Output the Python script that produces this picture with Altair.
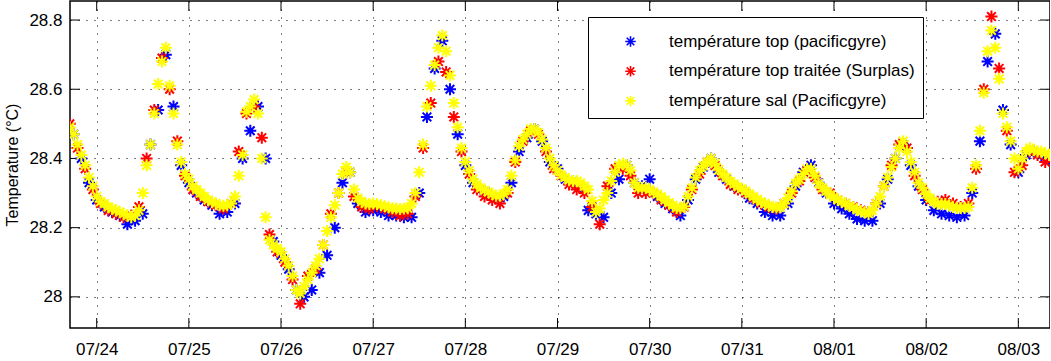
import altair as alt
import pandas as pd

# ---------------- data ----------------
series_names = [
    "température top (pacificgyre)",
    "température top traitée (Surplas)",
    "température sal (Pacificgyre)",
]
series_colors = ["#0000ff", "#ff0000", "#ffff00"]

# blue: every 2 h from 2012-07-23 18:00 UTC
blue_start = "2012-07-23 18:00"
blue_vals = [
    28.47, 28.40, 28.33,
    28.28, 28.26, 28.245, 28.235, 28.21, 28.22, 28.24, 28.44, 28.54, 28.70, 28.55, 28.38,
    28.33, 28.30, 28.28, 28.265, 28.24, 28.245, 28.27, 28.40, 28.48, 28.55, 28.40, 28.16,
    28.12, 28.08, 28.02, 28.00, 28.02, 28.07, 28.12, 28.20, 28.33, 28.36, 28.27, 28.245,
    28.25, 28.245, 28.235, 28.235, 28.23, 28.23, 28.30, 28.52, 28.66, 28.74, 28.60, 28.47,
    28.38, 28.33, 28.31, 28.30, 28.29, 28.29, 28.33, 28.42, 28.46, 28.485, 28.45, 28.39,
    28.37, 28.34, 28.335, 28.32, 28.25, 28.24, 28.23, 28.30, 28.34, 28.38, 28.33, 28.32,
    28.34, 28.29, 28.27, 28.255, 28.235, 28.28, 28.34, 28.375, 28.40, 28.36, 28.34, 28.32,
    28.31, 28.285, 28.27, 28.245, 28.235, 28.235, 28.27, 28.32, 28.36, 28.38, 28.33, 28.30,
    28.27, 28.255, 28.24, 28.225, 28.22, 28.22, 28.27, 28.34, 28.40, 28.44, 28.38, 28.32,
    28.28, 28.25, 28.24, 28.235, 28.23, 28.235, 28.30, 28.45, 28.68, 28.76, 28.54, 28.44,
    28.36, 28.41, 28.42, 28.41, 28.40,
]

# red: every 2 h from 2012-07-23 17:00 UTC
red_start = "2012-07-23 17:00"
red_vals = [
    28.50, 28.43, 28.37, 28.31,
    28.27, 28.25, 28.24, 28.23, 28.235, 28.26, 28.40, 28.54, 28.69, 28.60, 28.45, 28.35,
    28.31, 28.29, 28.275, 28.265, 28.255, 28.27, 28.42, 28.53, 28.55, 28.46, 28.18, 28.13,
    28.10, 28.05, 27.98, 28.06, 28.08, 28.15, 28.24, 28.30, 28.36, 28.29, 28.26, 28.255,
    28.262, 28.255, 28.245, 28.235, 28.24, 28.29, 28.43, 28.56, 28.68, 28.65, 28.52, 28.42,
    28.355, 28.31, 28.29, 28.28, 28.27, 28.30, 28.39, 28.45, 28.48, 28.47, 28.42, 28.37,
    28.35, 28.325, 28.31, 28.30, 28.26, 28.21, 28.32, 28.37, 28.37, 28.35, 28.30, 28.30,
    28.30, 28.28, 28.265, 28.245, 28.26, 28.31, 28.355, 28.39, 28.38, 28.35, 28.325, 28.31,
    28.30, 28.285, 28.27, 28.26, 28.255, 28.27, 28.30, 28.335, 28.365, 28.345, 28.31, 28.30,
    28.28, 28.27, 28.26, 28.25, 28.245, 28.27, 28.32, 28.38, 28.44, 28.43, 28.35, 28.31,
    28.28, 28.275, 28.28, 28.27, 28.26, 28.27, 28.37, 28.60, 28.81, 28.66, 28.48, 28.36,
    28.38, 28.42, 28.41, 28.39,
]

# yellow: every hour from 2012-07-23 17:00 UTC
yellow_start = "2012-07-23 17:00"
yellow_vals = [
    28.49, 28.47, 28.44, 28.41, 28.38, 28.345, 28.32,
    28.29, 28.275, 28.27, 28.26, 28.255, 28.25, 28.245, 28.24, 28.235, 28.23, 28.235, 28.25,
    28.30, 28.38, 28.44, 28.53, 28.615, 28.68, 28.72, 28.61, 28.53, 28.44, 28.39, 28.355,
    28.34, 28.32, 28.31, 28.30, 28.29, 28.28, 28.275, 28.27, 28.265, 28.263, 28.265, 28.27,
    28.29, 28.35, 28.41, 28.535, 28.55, 28.57, 28.53, 28.40, 28.23, 28.165, 28.15, 28.14,
    28.13, 28.11, 28.09, 28.06, 28.02, 28.01, 28.03, 28.05, 28.07, 28.09, 28.11, 28.15,
    28.19, 28.23, 28.265, 28.30, 28.355, 28.375, 28.36, 28.31, 28.285, 28.275, 28.27, 28.268,
    28.27, 28.268, 28.265, 28.262, 28.258, 28.256, 28.255, 28.254, 28.255, 28.256, 28.27, 28.30,
    28.36, 28.44, 28.55, 28.61, 28.67, 28.72, 28.755, 28.71, 28.64, 28.56, 28.49, 28.43,
    28.39, 28.365, 28.34, 28.325, 28.315, 28.308, 28.303, 28.297, 28.292, 28.292, 28.298, 28.31,
    28.35, 28.395, 28.435, 28.455, 28.47, 28.485, 28.485, 28.475, 28.455, 28.43, 28.40, 28.38,
    28.365, 28.352, 28.345, 28.337, 28.335, 28.335, 28.33, 28.32, 28.31, 28.277, 28.245, 28.255,
    28.28, 28.30, 28.335, 28.36, 28.38, 28.385, 28.38, 28.365, 28.33, 28.315, 28.315, 28.315,
    28.31, 28.303, 28.297, 28.29, 28.28, 28.272, 28.265, 28.257, 28.256, 28.262, 28.29, 28.315,
    28.345, 28.365, 28.378, 28.39, 28.40, 28.385, 28.367, 28.355, 28.345, 28.334, 28.326, 28.318,
    28.313, 28.306, 28.297, 28.29, 28.282, 28.275, 28.27, 28.264, 28.26, 28.258, 28.258, 28.27,
    28.286, 28.305, 28.328, 28.34, 28.355, 28.37, 28.37, 28.35, 28.328, 28.315, 28.305, 28.295,
    28.288, 28.28, 28.275, 28.27, 28.263, 28.258, 28.252, 28.247, 28.244, 28.24, 28.25, 28.27,
    28.29, 28.32, 28.345, 28.375, 28.40, 28.43, 28.45, 28.42, 28.39, 28.36, 28.33, 28.315,
    28.297, 28.285, 28.275, 28.268, 28.268, 28.268, 28.265, 28.26, 28.257, 28.257, 28.257, 28.26,
    28.315, 28.38, 28.48, 28.59, 28.71, 28.77, 28.72, 28.63, 28.53, 28.49, 28.45, 28.40,
    28.37, 28.40, 28.42, 28.43, 28.425, 28.42, 28.42, 28.415, 28.41,
]

tick_dates = ["2012-07-24", "2012-07-25", "2012-07-26", "2012-07-27", "2012-07-28",
              "2012-07-29", "2012-07-30", "2012-07-31", "2012-08-01", "2012-08-02",
              "2012-08-03"]
y_ticks = [28.0, 28.2, 28.4, 28.6, 28.8]


def times(start, n, freq):
    return [t.strftime("%Y-%m-%dT%H:%M:%SZ") for t in pd.date_range(start, periods=n, freq=freq)]


df = pd.concat([
    pd.DataFrame({"t": times(blue_start, len(blue_vals), "2h"), "temp": blue_vals, "serie": series_names[0]}),
    pd.DataFrame({"t": times(red_start, len(red_vals), "2h"), "temp": red_vals, "serie": series_names[1]}),
    pd.DataFrame({"t": times(yellow_start, len(yellow_vals), "1h"), "temp": yellow_vals, "serie": series_names[2]}),
], ignore_index=True)

xt_df = pd.DataFrame({"t": [d + "T00:00:00Z" for d in tick_dates]})
yt_df = pd.DataFrame({"temp": y_ticks})

W, H = 980, 327
STAR = "M-1,0L1,0M0,-1L0,1M-0.72,-0.72L0.72,0.72M-0.72,0.72L0.72,-0.72"
FONT = "Liberation Sans"

x_scale = alt.Scale(
    type="utc",
    domain=[alt.DateTime(year=2012, month=7, date=23, hours=17, minutes=3, utc=True),
            alt.DateTime(year=2012, month=8, date=3, hours=8, minutes=15, utc=True)],
)
y_scale = alt.Scale(domain=[27.91, 28.855], nice=False, zero=False)

x_axis = alt.Axis(
    values=[alt.DateTime(year=int(d[:4]), month=int(d[5:7]), date=int(d[8:]), utc=True) for d in tick_dates],
    format="%m/%d", title=None, grid=True, gridColor="#000000", gridDash=[1, 7], gridWidth=1,
    ticks=False, tickSize=0, domain=False, labelFont=FONT, labelFontSize=17, labelColor="#000000",
    labelPadding=13,
)
y_axis = alt.Axis(
    values=y_ticks, format="~f", title="Temperature (°C)", grid=True, gridColor="#000000",
    gridDash=[1, 7], gridWidth=1, ticks=False, tickSize=0, domain=False, labelFont=FONT,
    labelFontSize=17, labelColor="#000000", labelPadding=8, titleFont=FONT, titleFontSize=16,
    titleFontWeight="normal", titleColor="#000000", titlePadding=8,
)

X = alt.X("t:T", scale=x_scale, axis=x_axis)
Y = alt.Y("temp:Q", scale=y_scale, axis=y_axis)

points = alt.Chart(df).mark_point(
    shape=STAR, filled=False, size=144, strokeWidth=2, opacity=1, clip=True
).encode(
    x=X,
    y=Y,
    color=alt.Color(
        "serie:N",
        scale=alt.Scale(domain=series_names, range=series_colors),
        legend=alt.Legend(
            orient="none", legendX=518, legendY=16, title=" ", titleFontSize=8, titlePadding=0,
            fillColor="#ffffff", strokeColor="#000000", padding=8, symbolType=STAR,
            symbolSize=110, symbolStrokeWidth=1.6, symbolOffset=26, labelOffset=30,
            rowPadding=11.7, labelFont=FONT, labelFontSize=17, labelColor="#000000",
            labelLimit=400,
        ),
    ),
)

xt_bottom = alt.Chart(xt_df).mark_rule(color="#000000", strokeWidth=1).encode(
    x=X, y=alt.value(H), y2=alt.value(H - 10))
xt_top = alt.Chart(xt_df).mark_rule(color="#000000", strokeWidth=1).encode(
    x=X, y=alt.value(0), y2=alt.value(10))
yt_left = alt.Chart(yt_df).mark_rule(color="#000000", strokeWidth=1).encode(
    y=Y, x=alt.value(0), x2=alt.value(10))
yt_right = alt.Chart(yt_df).mark_rule(color="#000000", strokeWidth=1).encode(
    y=Y, x=alt.value(W), x2=alt.value(W - 10))

chart = alt.layer(xt_bottom, xt_top, yt_left, yt_right, points).properties(
    width=W, height=H,
    autosize=alt.AutoSizeParams(type="none"),
    padding={"left": 70, "top": 1, "right": 0, "bottom": 33},
    background="#ffffff",
).configure_view(stroke="#000000", strokeWidth=1.5)

chart.save("out.html", embed_options={"renderer": "svg", "actions": False})
